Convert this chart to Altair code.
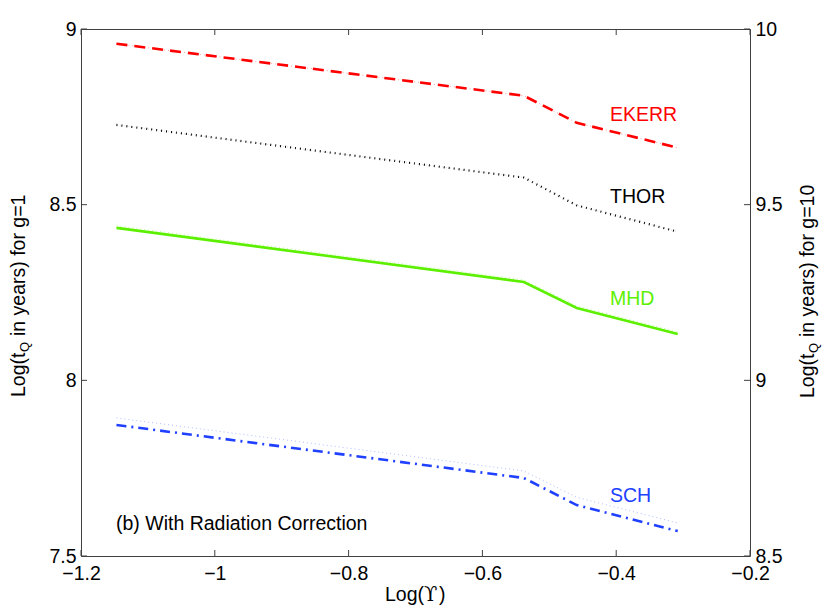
import altair as alt
import pandas as pd

# ---- data ----
log_upsilon = [-1.147, -0.538, -0.459, -0.308]
ekerr = [8.958, 8.810, 8.733, 8.662]
thor = [8.727, 8.577, 8.498, 8.423]
mhd = [8.434, 8.280, 8.206, 8.132]
sch = [7.873, 7.722, 7.645, 7.571]
# faint companions (g=10, right axis)
ekerr_g10 = [9.958, 9.810, 9.733, 9.662]
thor_g10 = [9.727, 9.577, 9.498, 9.423]
mhd_g10 = [9.440, 9.286, 9.212, 9.138]
sch_g10 = [8.893, 8.742, 8.667, 8.594]

x_ticks = [-1.2, -1.0, -0.8, -0.6, -0.4, -0.2]
y_left_ticks = [7.5, 8.0, 8.5, 9.0]
y_right_ticks = [8.5, 9.0, 9.5, 10.0]

W, H = 669, 527
FONT = "Liberation Sans"
FS = 19.5
AXC = "#404040"

RED = "#ff0000"
BLACK = "#000000"
GREEN = "#5cf000"
BLUE = "#2040ff"

xscale = alt.Scale(domain=[-1.2, -0.2], nice=False, zero=False)
yl_scale = alt.Scale(domain=[7.5, 9.0], nice=False, zero=False)
yr_scale = alt.Scale(domain=[8.5, 10.0], nice=False, zero=False)

x_axis = alt.Axis(values=x_ticks, labelExpr="format(datum.value, '~g')", title=None,
                  labelFont=FONT, labelFontSize=FS, labelColor="black", labelPadding=8,
                  labelFlush=False, labelOverlap=False, ticks=False, domain=False, grid=False)
yl_axis = alt.Axis(values=y_left_ticks, labelExpr="format(datum.value, '~g')", title=None,
                   labelFont=FONT, labelFontSize=FS, labelColor="black", labelPadding=5,
                   labelFlush=False, labelOverlap=False, ticks=False, domain=False, grid=False,
                   orient="left")
yr_axis = alt.Axis(values=y_right_ticks, labelExpr="format(datum.value, '~g')", title=None,
                   labelFont=FONT, labelFontSize=FS, labelColor="black", labelPadding=5,
                   labelFlush=False, labelOverlap=False, ticks=False, domain=False, grid=False,
                   orient="right")


def series_df(ys):
    return pd.DataFrame({"x": log_upsilon, "y": ys})


def line(ys, color, width, dash, scale, axis, opacity=1.0):
    kw = dict(color=color, strokeWidth=width, opacity=opacity, clip=False)
    if dash:
        kw["strokeDash"] = dash
    return alt.Chart(series_df(ys)).mark_line(**kw).encode(
        x=alt.X("x:Q", scale=xscale, axis=x_axis),
        y=alt.Y("y:Q", scale=scale, axis=axis),
    )


# left-scale layer
l_ekerr = line(ekerr, RED, 2.6, [11, 7], yl_scale, yl_axis)
l_thor = line(thor, BLACK, 2.2, [1, 4], yl_scale, yl_axis)
l_mhd = line(mhd, GREEN, 2.6, None, yl_scale, yl_axis)
l_sch = line(sch, BLUE, 2.6, [10, 5, 2, 5], yl_scale, yl_axis)

# inward tick marks
xt = pd.DataFrame({"v": x_ticks})
ticks_bottom = alt.Chart(xt).mark_rule(color=AXC, strokeWidth=1).encode(
    x=alt.X("v:Q", scale=xscale, axis=x_axis), y=alt.value(H), y2=alt.value(H - 6))
ticks_top = alt.Chart(xt).mark_rule(color=AXC, strokeWidth=1).encode(
    x=alt.X("v:Q", scale=xscale, axis=x_axis), y=alt.value(0), y2=alt.value(6))
ylt = pd.DataFrame({"v": y_left_ticks})
ticks_left = alt.Chart(ylt).mark_rule(color=AXC, strokeWidth=1).encode(
    y=alt.Y("v:Q", scale=yl_scale, axis=yl_axis), x=alt.value(0), x2=alt.value(6))


def txt(s, x, y, color="black", size=FS, angle=0, align="left", baseline="middle", font=FONT):
    return alt.Chart(pd.DataFrame({"t": [s]})).mark_text(
        font=font, fontSize=size, color=color, angle=angle, align=align, baseline=baseline
    ).encode(text="t:N", x=alt.value(x), y=alt.value(y))


labels = [
    txt("EKERR", 529, 86, RED),
    txt("THOR", 529, 168, BLACK),
    txt("MHD", 529, 270, GREEN),
    txt("SCH", 529, 467, BLUE),
    txt("(b) With Radiation Correction", 35, 495),
    # x axis title
    txt("Log(", 304, 566),
    txt("ϒ", 343, 566, font="DejaVu Serif"),
    txt(")", 358, 566),
    # left axis title with subscript
    txt("Log(t", -62, 368, angle=270),
    txt("Q", -56, 323, size=13, angle=270),
    txt("in years) for g=1", -62, 307, angle=270),
    # right axis title with subscript
    txt("Log(t", 727, 369, angle=270),
    txt("Q", 733, 324, size=13, angle=270),
    txt("in years) for g=10", 727, 308, angle=270),
]

left_layer = alt.layer(l_mhd, l_thor, l_ekerr, l_sch, ticks_bottom, ticks_top, ticks_left, *labels)

# right-scale layer
r_ekerr = line(ekerr_g10, RED, 0.8, [1, 3], yr_scale, yr_axis, 0.5)
r_thor = line(thor_g10, "#888888", 0.8, [1, 3], yr_scale, yr_axis, 0.4)
r_mhd = line(mhd_g10, GREEN, 0.8, [1, 3], yr_scale, yr_axis, 0.5)
r_sch = line(sch_g10, BLUE, 0.8, [1, 3], yr_scale, yr_axis, 0.45)
yrt = pd.DataFrame({"v": y_right_ticks})
ticks_right = alt.Chart(yrt).mark_rule(color=AXC, strokeWidth=1).encode(
    y=alt.Y("v:Q", scale=yr_scale, axis=yr_axis), x=alt.value(W), x2=alt.value(W - 6))
right_layer = alt.layer(r_ekerr, r_thor, r_mhd, r_sch, ticks_right)

chart = alt.layer(left_layer, right_layer).resolve_scale(y="independent").properties(
    width=W, height=H,
    autosize=alt.AutoSizeParams(type="none"),
    padding={"left": 73, "top": 21, "right": 72, "bottom": 52},
    background="white",
).configure_view(stroke=AXC, strokeWidth=1)

chart.save("out.html", embed_options={"renderer": "svg", "actions": False})
